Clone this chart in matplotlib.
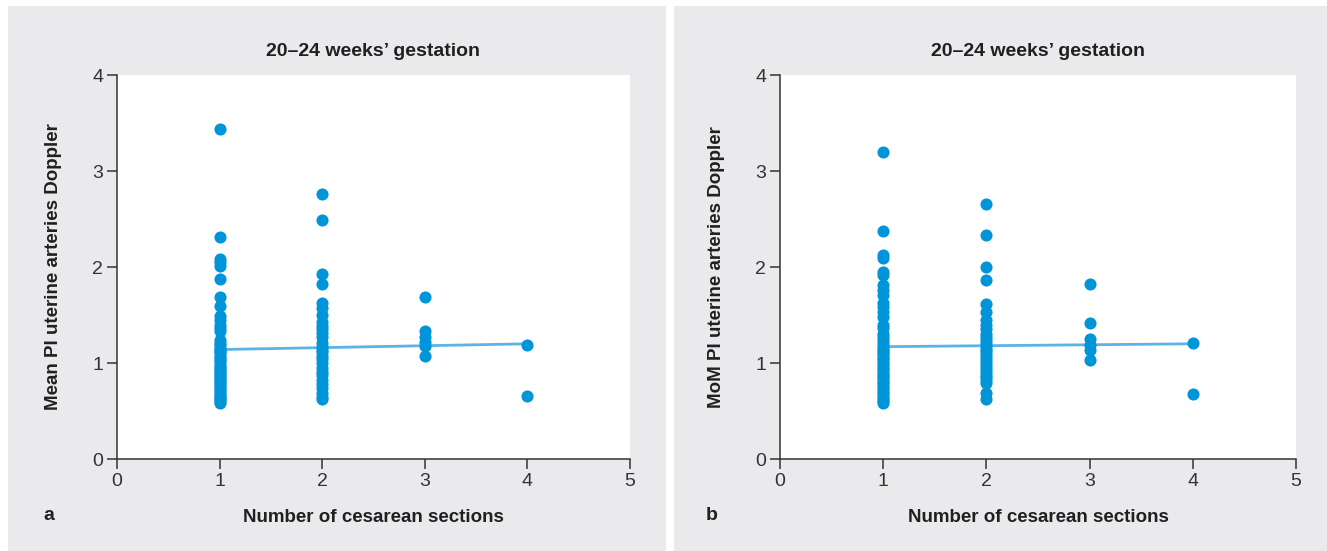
import matplotlib
matplotlib.use("Agg")
import matplotlib.pyplot as plt
from matplotlib.patches import Rectangle
from matplotlib import font_manager

fams = {f.name for f in font_manager.fontManager.ttflist}
narrow = 'Liberation Sans Narrow' if 'Liberation Sans Narrow' in fams else 'Liberation Sans'
plt.rcParams['font.family'] = [narrow, 'DejaVu Sans']

title_text = "20\u201324 weeks\u2019 gestation"
xlabel_text = "Number of cesarean sections"
ylabels = ["Mean PI uterine arteries Doppler", "MoM PI uterine arteries Doppler"]
panel_letters = ["a", "b"]
xticks = [0, 1, 2, 3, 4, 5]
yticks = [0, 1, 2, 3, 4]

# Panel a data
a_c1 = [3.44, 2.31, 2.08, 2.05, 2.01, 1.87, 1.69, 1.59, 1.49, 1.45, 1.40, 1.36, 1.33,
        1.24, 1.21, 1.19, 1.16, 1.14, 1.12, 1.10, 1.07, 1.05, 1.03, 1.01, 0.98, 0.96,
        0.94, 0.92, 0.90, 0.88, 0.86, 0.84, 0.82, 0.80, 0.78, 0.76, 0.74, 0.72, 0.70,
        0.68, 0.66, 0.64, 0.62, 0.60, 0.58]
a_c2 = [2.76, 2.49, 1.93, 1.82, 1.62, 1.57, 1.50, 1.43, 1.39, 1.35, 1.31, 1.27, 1.21,
        1.17, 1.14, 1.11, 1.07, 1.04, 1.00, 0.95, 0.91, 0.87, 0.82, 0.78, 0.74, 0.69,
        0.65, 0.62]
a_c3 = [1.69, 1.33, 1.27, 1.22, 1.18, 1.07]
a_c4 = [1.19, 0.66]
a_reg_x = [1, 4]
a_reg_y = [1.14, 1.20]

# Panel b data
b_c1 = [3.20, 2.37, 2.13, 2.09, 1.95, 1.92, 1.81, 1.76, 1.71, 1.63, 1.58, 1.53, 1.48,
        1.40, 1.36, 1.30, 1.27, 1.24, 1.21, 1.18, 1.15, 1.13, 1.10, 1.08, 1.05, 1.03,
        1.00, 0.98, 0.95, 0.93, 0.90, 0.88, 0.85, 0.83, 0.80, 0.78, 0.75, 0.73, 0.70,
        0.68, 0.65, 0.63, 0.60, 0.58]
b_c2 = [2.66, 2.33, 2.00, 1.86, 1.61, 1.53, 1.45, 1.40, 1.35, 1.30, 1.27, 1.24, 1.21,
        1.18, 1.15, 1.12, 1.09, 1.06, 1.03, 1.00, 0.97, 0.94, 0.91, 0.88, 0.85, 0.82,
        0.79, 0.69, 0.62]
b_c3 = [1.82, 1.42, 1.25, 1.19, 1.14, 1.03]
b_c4 = [1.21, 0.68]
b_reg_x = [1, 4]
b_reg_y = [1.17, 1.20]

dot_color = '#0095d9'
line_color = '#5cb3e4'
panel_color = '#eaeaec'
text_color = '#231f20'

W, H = 1327, 551
fig = plt.figure(figsize=(W / 100, H / 100), dpi=100)
fig.patch.set_facecolor('white')

# grey panels
for (x0, x1) in [(8, 666), (674, 1327)]:
    fig.patches.append(Rectangle((x0 / W, 0), (x1 - x0) / W, (551 - 6) / H,
                                 transform=fig.transFigure, facecolor=panel_color,
                                 edgecolor='none', zorder=-10))

panels = [
    (117, [a_c1, a_c2, a_c3, a_c4], a_reg_x, a_reg_y),
    (780, [b_c1, b_c2, b_c3, b_c4], b_reg_x, b_reg_y),
]

ax_top, ax_bot = 75, 459
for i, (left, cols, rx, ry) in enumerate(panels):
    width = 513 if i == 0 else 516
    ax = fig.add_axes([left / W, 1 - ax_bot / H, width / W, (ax_bot - ax_top) / H])
    ax.set_zorder(5)
    ax.set_facecolor('white')
    ax.set_xlim(0, 5)
    ax.set_ylim(0, 4)
    ax.plot(rx, ry, color=line_color, lw=2, zorder=2, solid_capstyle='butt')
    for k, vals in enumerate(cols):
        ax.scatter([k + 1] * len(vals), vals, s=76, color=dot_color, linewidths=0, zorder=3)
    for sp in ['top', 'right']:
        ax.spines[sp].set_visible(False)
    for sp in ['left', 'bottom']:
        ax.spines[sp].set_color('#333333')
        ax.spines[sp].set_linewidth(1.1)
    ax.set_xticks(xticks)
    ax.set_yticks(yticks)
    ax.tick_params(direction='out', length=7, width=1.1, color='#333333',
                   labelsize=14, labelcolor='#333333', pad=3)
    ax.set_title(title_text, fontsize=14, fontweight='bold', color=text_color, pad=14)
    ax.set_xlabel(xlabel_text, fontsize=13.5, fontweight='bold', color=text_color, labelpad=14)
    ax.set_ylabel(ylabels[i], fontsize=13.5, fontweight='bold', color=text_color, labelpad=22)
    fig.text((left - 74) / W, 1 - 515 / H, panel_letters[i], fontsize=14, fontweight='bold',
             color=text_color, ha='left', va='center', zorder=6)

fig.savefig('out.png', dpi=100, facecolor='white')
